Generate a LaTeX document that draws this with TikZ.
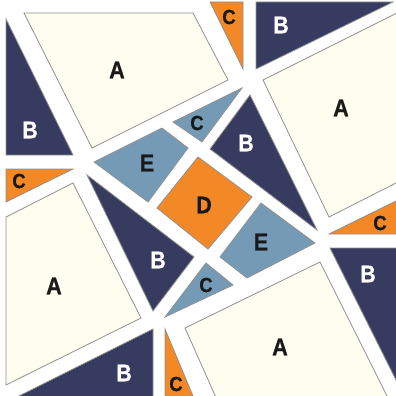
\documentclass[tikz,border=0pt]{standalone}
\usepackage{fontspec}
\newfontfamily\lblfont[FakeStretch=0.9,FakeBold=0.6]{Liberation Sans}
\definecolor{cream}{RGB}{253,253,240}
\definecolor{navy}{RGB}{55,59,95}
\definecolor{orng}{RGB}{242,137,38}
\definecolor{steel}{RGB}{117,154,182}
\definecolor{edge}{RGB}{145,145,145}
\tikzset{
  piece/.style={draw=edge, line width=0.8pt, line join=miter},
  pa/.style={piece, fill=cream},
  pb/.style={piece, fill=navy},
  pc/.style={piece, fill=orng},
  pe/.style={piece, fill=steel},
  lbig/.style={font=\lblfont\bfseries\fontsize{24}{24}\selectfont, inner sep=0pt},
  lsmall/.style={font=\lblfont\bfseries\fontsize{20.5}{20.5}\selectfont, inner sep=0pt},
  dk/.style={text=black!90},
  wt/.style={text=white}
}
\begin{document}
\begin{tikzpicture}[x=1pt,y=-1pt]
\useasboundingbox (0,0) rectangle (396,396);
\fill[white] (0,0) rectangle (396,396);
\clip (0,0) rectangle (396,396);
% A pieces
\path[pa] (24,13) -- (193,13) -- (228,80) -- (92,148) -- cycle;
\path[pa] (263,80) -- (400,11.5) -- (400,181) -- (329,217) -- cycle;
\path[pa] (6,217) -- (73,183) -- (141,318) -- (6,385) -- cycle;
\path[pa] (185,328) -- (320,262) -- (390,402) -- (218,402) -- cycle;
% B pieces
\path[pb] (6,19) -- (73,155) -- (6,155) -- cycle;
\path[pb] (256,2) -- (393,2) -- (256,69) -- cycle;
\path[pb] (250,95) -- (210,149) -- (317,230) -- cycle;
\path[pb] (87,175) -- (194,257) -- (153,311) -- cycle;
\path[pb] (153,329) -- (153,402) -- (7,402) -- cycle;
\path[pb] (330,248) -- (400,248) -- (400,388) -- cycle;
% orange C pieces
\path[pc] (210,2) -- (243,2) -- (243,69) -- cycle;
\path[pc] (6,169) -- (73,169) -- (6,202) -- cycle;
\path[pc] (329,234) -- (400,199) -- (400,234) -- cycle;
\path[pc] (165,329) -- (195.5,402) -- (165,402) -- cycle;
% blue C pieces
\path[pe] (173,122) -- (242,88) -- (202,142) -- cycle;
\path[pe] (206,263) -- (233,285) -- (165,317) -- cycle;
% E pieces
\path[pe] (94,162) -- (162,128) -- (188,148) -- (148,202) -- cycle;
\path[pe] (261,203) -- (315,243) -- (247,278) -- (220,257) -- cycle;
% D
\path[pc] (198,157) -- (252,197) -- (208,249) -- (157,208) -- cycle;
% labels
\node[lbig,dk] (la1) at (117,70) {A};
\node[lbig,dk] (la2) at (341,108) {A};
\node[lbig,dk] (la3) at (54,286) {A};
\node[lbig,dk] (la4) at (280,347) {A};
\node[lbig,wt] (lb1) at (30,130) {B};
\node[lbig,wt] (lb2) at (281,25) {B};
\node[lbig,wt] (lb3) at (246,143) {B};
\node[lbig,wt] (lb4) at (158,260) {B};
\node[lbig,wt] (lb5) at (124,373) {B};
\node[lbig,wt] (lb6) at (368,274) {B};
\node[lsmall,dk] (lc1) at (229,17) {C};
\node[lsmall,dk] (lc2) at (19,181) {C};
\node[lsmall,dk] (lc3) at (380,223) {C};
\node[lsmall,dk] (lc4) at (176,384) {C};
\node[lsmall,dk] (lc5) at (197,123) {C};
\node[lsmall,dk] (lc6) at (206,285) {C};
\node[lbig,dk] (le1) at (147,163) {E};
\node[lbig,dk] (le2) at (261,242) {E};
\node[lbig,dk] (ld) at (204,205) {D};
\end{tikzpicture}
\end{document}
